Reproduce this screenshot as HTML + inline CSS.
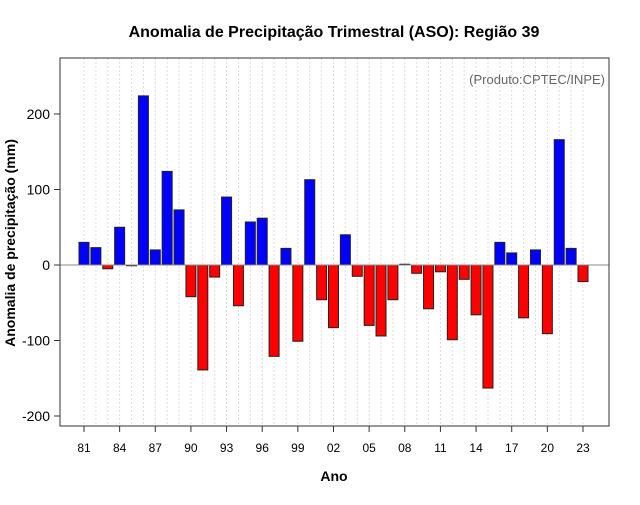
<!DOCTYPE html>
<html><head><meta charset="utf-8"><style>
body{margin:0;background:#fff}
svg{font-family:"Liberation Sans",sans-serif}
</style></head><body>
<svg id="c" width="640" height="500"></svg>
<script>
const years=["81","82","83","84","85","86","87","88","89","90","91","92","93","94","95","96","97","98","99","00","01","02","03","04","05","06","07","08","09","10","11","12","13","14","15","16","17","18","19","20","21","22","23"];
const values=[30,23,-5,50,-1,224,20,124,73,-42,-139,-16,90,-54,57,62,-121,22,-101,113,-46,-83,40,-15,-80,-94,-46,1,-11,-58,-9,-99,-19,-66,-163,30,16,-70,20,-91,166,22,-22];
const yTicks=[-200,-100,0,100,200];
const xTickLabels=["81","84","87","90","93","96","99","02","05","08","11","14","17","20","23"];
const NS="http://www.w3.org/2000/svg",svg=document.getElementById('c');
function el(t,a,txt){const e=document.createElementNS(NS,t);for(const k in a)e.setAttribute(k,a[k]);if(txt!==undefined)e.textContent=txt;svg.appendChild(e);return e;}
const X0=60,X1=609,Y0=58,Y1=426;
const x=i=>84+i*(583-84)/(years.length-1);
const y=v=>265-v*0.755;
let e;
years.forEach((yr,i)=>{e=el('line',{x1:x(i),x2:x(i),y1:Y0,y2:Y1,stroke:'#ddd','stroke-dasharray':'2,2'});

});
values.forEach((v,i)=>{const t=Math.min(y(v),y(0)),h=Math.abs(y(v)-y(0));
e=el('rect',{x:x(i)-5,y:t,width:10,height:Math.max(h,0.5),fill:v>=0?'#0000ff':'#ff0000',stroke:'#222','stroke-width':1});

});
e=el('line',{x1:X0,x2:X1,y1:y(0),y2:y(0),stroke:'#888','stroke-width':1});


e=el('rect',{x:X0,y:Y0,width:X1-X0,height:Y1-Y0,fill:'none',stroke:'#333'});


yTicks.forEach(v=>{e=el('line',{x1:X0-6,x2:X0,y1:y(v),y2:y(v),stroke:'#333'});


e=el('text',{x:X0-10,y:y(v)+5,'text-anchor':'end','font-size':14,fill:'#000'},v);

});
xTickLabels.forEach(l=>{const i=years.indexOf(l);
e=el('line',{x1:x(i),x2:x(i),y1:Y1,y2:Y1+6,stroke:'#333'});


e=el('text',{x:x(i),y:452,'text-anchor':'middle','font-size':12,fill:'#000'},l);

});
e=el('text',{x:334,y:37,'text-anchor':'middle','font-size':16,'font-weight':'bold'},'Anomalia de Precipitação Trimestral (ASO): Região 39');


e=el('text',{x:605,y:84,'text-anchor':'end','font-size':13,fill:'#666'},'(Produto:CPTEC/INPE)');


e=el('text',{x:334,y:481,'text-anchor':'middle','font-size':14,'font-weight':'bold'},'Ano');


e=el('text',{x:15,y:243,'text-anchor':'middle','font-size':14,'font-weight':'bold',transform:'rotate(-90 15 243)'},'Anomalia de precipitação (mm)');


</script>
</body></html>
